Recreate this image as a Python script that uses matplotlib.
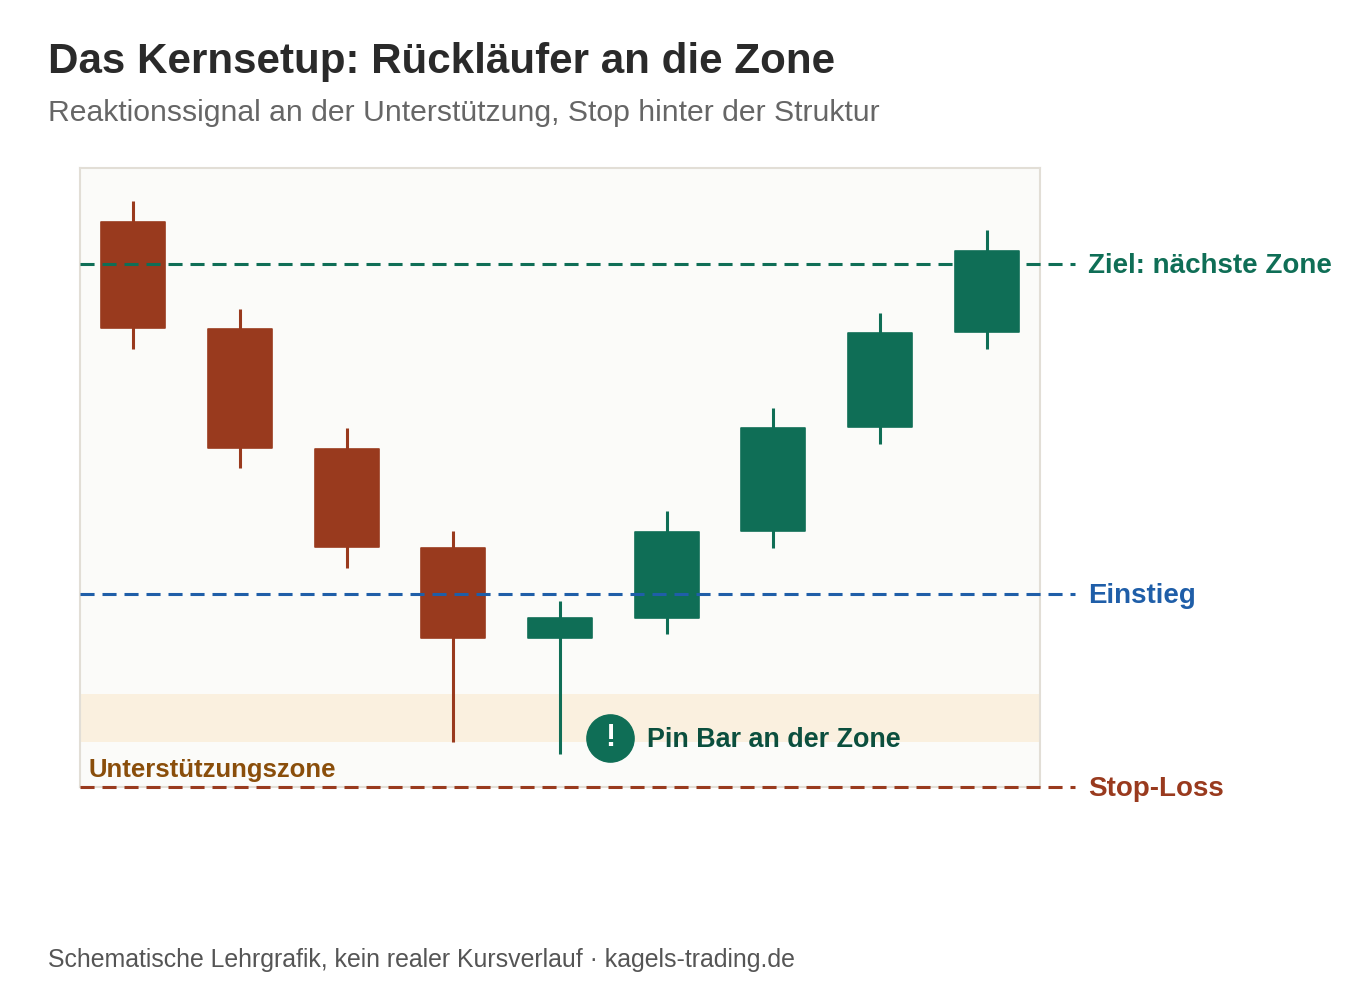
import matplotlib.pyplot as plt
from matplotlib.patches import Rectangle

plt.rcParams['font.family'] = ['Liberation Sans', 'DejaVu Sans']

# schematic candles (price units 0..100)
opens = [91.3, 74.0, 54.6, 38.6, 24.1, 27.3, 41.4, 58.2, 73.5]
closes = [74.2, 54.8, 38.8, 24.1, 27.3, 41.2, 58.0, 73.3, 86.6]
highs = [94.7, 77.2, 58.0, 41.4, 30.0, 44.6, 61.2, 76.6, 90.0]
lows = [70.8, 51.5, 35.4, 7.3, 5.3, 24.7, 38.6, 55.4, 70.8]

target_level = 84.5
entry_level = 31.2
stop_level = 0.0
zone_low, zone_high = 7.3, 15.0

RED = '#993A1E'
GREEN = '#0F6E56'
BLUE = '#1F5EA8'


def draw_candles(ax):
    for i, (o, c, h, l) in enumerate(zip(opens, closes, highs, lows)):
        col = GREEN if c >= o else RED
        ax.plot([i, i], [l, h], color=col, lw=2.2, solid_capstyle='butt',
                zorder=3)
        ax.add_patch(Rectangle((i - 0.3, min(o, c)), 0.6, abs(c - o),
                               facecolor=col, edgecolor=col, lw=1.2,
                               joinstyle='round', zorder=4))


def main():
    fig = plt.figure(figsize=(13.6, 10), dpi=100)
    ax = fig.add_axes([80 / 1360, 0.213, 960 / 1360, 0.619])
    ax.set_facecolor('#FBFBF9')
    ax.set_xlim(-0.5, 8.5)
    ax.set_ylim(0, 100)
    ax.set_xticks([])
    ax.set_yticks([])
    for sp in ax.spines.values():
        sp.set_color('#E2DED6')
        sp.set_linewidth(1.5)

    ax.axhspan(zone_low, zone_high, color='#FAF0DF', lw=0, zorder=1)
    ax.text(-0.42, 2.8, 'Unterstützungszone', color='#8A4E0B',
            fontsize=18.5, fontweight='bold', va='center', zorder=5)

    draw_candles(ax)

    levels = [(target_level, GREEN, 'Ziel: nächste Zone'),
              (entry_level, BLUE, 'Einstieg'),
              (stop_level, RED, 'Stop-Loss')]
    for y, col, lab in levels:
        ax.plot([-0.5, 8.83], [y, y], color=col, lw=2.2,
                linestyle=(0, (4.6, 2.6)), clip_on=False, zorder=8)
        ax.text(8.95, y - 0.35, lab, color=col, fontsize=20,
                fontweight='bold', va='center', ha='left', clip_on=False)

    ax.plot([4.47], [7.9], 'o', ms=34, color=GREEN, zorder=6)
    ax.text(4.47, 7.9, '!', color='white', fontsize=22, fontweight='bold',
            ha='center', va='center', zorder=7)
    ax.text(4.82, 7.6, 'Pin Bar an der Zone', color='#0B4F3E',
            fontsize=19.4, fontweight='bold', va='center', zorder=7)

    fig.text(48 / 1360, 1 - 62 / 1000,
             'Das Kernsetup: Rückläufer an die Zone',
             fontsize=30.3, fontweight='bold', color='#2A2A2A', va='center')
    fig.text(48 / 1360, 1 - 113 / 1000,
             'Reaktionssignal an der Unterstützung, Stop hinter der Struktur',
             fontsize=21.7, color='#666666', va='center')
    fig.text(48 / 1360, 1 - 960 / 1000,
             'Schematische Lehrgrafik, kein realer Kursverlauf · kagels-trading.de',
             fontsize=17.9, color='#555555', va='center')

    fig.savefig('out.png', dpi=100, facecolor='white')


if __name__ == "__main__":
    main()
